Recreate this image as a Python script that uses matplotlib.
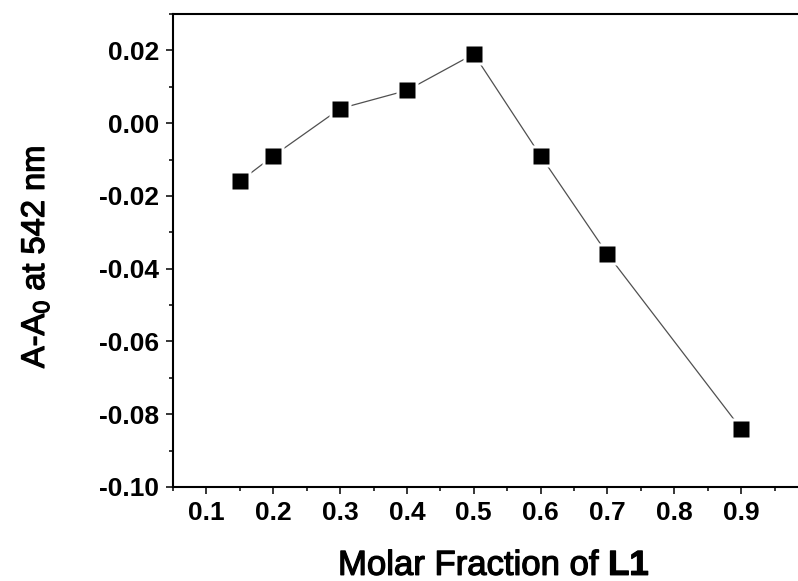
import matplotlib
matplotlib.use("Agg")
import matplotlib.pyplot as plt
import matplotlib.patheffects as pe
from matplotlib.ticker import MultipleLocator, FuncFormatter

plt.rcParams['font.family'] = ['Liberation Sans', 'DejaVu Sans']
plt.rcParams['mathtext.fontset'] = 'custom'
plt.rcParams['mathtext.rm'] = 'Liberation Sans'
plt.rcParams['mathtext.bf'] = 'Liberation Sans:bold'
plt.rcParams['mathtext.default'] = 'rm'

molar_fraction = [0.15, 0.2, 0.3, 0.4, 0.5, 0.6, 0.7, 0.9]
delta_abs = [-0.016, -0.009, 0.004, 0.009, 0.019, -0.009, -0.036, -0.084]

fig = plt.figure(figsize=(7.98, 5.81), dpi=100)
ax = fig.add_axes([173/798, 1-487/581, 635/798, 473/581])

ax.plot(molar_fraction, delta_abs, color='#505050', lw=0.9, zorder=2)
ax.plot(molar_fraction, delta_abs, ls='none', marker='s', ms=16.5, mfc='white', mec='none', zorder=3)
ax.plot(molar_fraction, delta_abs, ls='none', marker='s', ms=11.8, mfc='black', mec='none', zorder=4)

ax.set_xlim(0.05, 1.0)
ax.set_ylim(-0.10, 0.03)
ax.set_xticks([0.1, 0.2, 0.3, 0.4, 0.5, 0.6, 0.7, 0.8, 0.9])
ax.xaxis.set_minor_locator(MultipleLocator(0.05))
ax.set_yticks([-0.10, -0.08, -0.06, -0.04, -0.02, 0.00, 0.02])
ax.yaxis.set_minor_locator(MultipleLocator(0.01))
ax.xaxis.set_major_formatter(FuncFormatter(lambda v, p: f"{round(v, 2):.1f}"))
ax.yaxis.set_major_formatter(FuncFormatter(lambda v, p: f"{round(v, 3) + 0.0:.2f}".replace('-0.00', '0.00')))

for s in ax.spines.values():
    s.set_linewidth(1.5)
ax.tick_params(which='major', direction='out', length=5, width=1.1, labelsize=19, pad=5)
ax.tick_params(which='minor', direction='out', length=2.7, width=1.1)
ax.tick_params(top=False, right=False, which='both')
for lab in ax.get_xticklabels() + ax.get_yticklabels():
    lab.set_fontweight('bold')

thick = [pe.withStroke(linewidth=0.9, foreground='black')]
fig.text(494/798, 1-575/581, 'Molar Fraction of $\\mathbf{L1}$', ha='center', va='baseline',
         fontsize=25, path_effects=thick)
fig.text(44/798, 1-257/581, 'A-A$_0$ at 542 nm', ha='center', va='baseline', fontsize=23.5,
         rotation=90, rotation_mode='anchor', path_effects=thick)

fig.savefig('out.png', dpi=100)
